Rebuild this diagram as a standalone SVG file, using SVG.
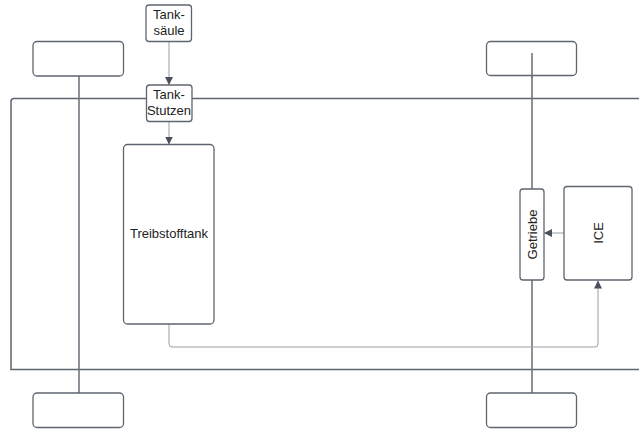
<svg xmlns="http://www.w3.org/2000/svg" width="639" height="429" viewBox="0 0 639 429">
  <style>
    .box { fill: #ffffff; stroke: #5f6570; stroke-width: 1.3; }
    .frame { fill: none; stroke: #5f6570; stroke-width: 1.5; }
    .axle { fill: none; stroke: #6f7580; stroke-width: 1.6; }
    .conn { fill: none; stroke: #9a9ea6; stroke-width: 1; }
    .lbl { font-family: "Liberation Sans", Arial, sans-serif; font-size: 13px; fill: #222222; text-anchor: middle; }
  </style>
  <defs>
    <marker id="arrow" viewBox="0 0 10 10" refX="10" refY="5" markerWidth="8" markerHeight="8" markerUnits="userSpaceOnUse" orient="auto">
      <path d="M0,0 L10,5 L0,10 Z" fill="#4a505c"/>
    </marker>
  </defs>

  <rect width="639" height="429" fill="#ffffff"/>

  <!-- vehicle body -->
  <g id="body">
    <path class="frame" d="M645,98.5 H14 Q11,98.5 11,101.5 V369.5 H645"/>
  </g>

  <!-- axles -->
  <g id="axles">
    <line class="axle" x1="79" y1="76" x2="79" y2="393"/>
    <line class="axle" x1="532" y1="53" x2="532" y2="393"/>
  </g>

  <!-- wheels -->
  <g id="wheel-front-left"><rect class="box" x="33" y="41.5" width="90.5" height="34.5" rx="4"/></g>
  <g id="wheel-front-right"><rect class="box" x="486.5" y="41.5" width="90" height="34" rx="4"/></g>
  <g id="wheel-rear-left"><rect class="box" x="33" y="393" width="90.5" height="34.5" rx="4"/></g>
  <g id="wheel-rear-right"><rect class="box" x="486.5" y="393" width="90" height="34.5" rx="4"/></g>
  <!-- front-right axle passes over its wheel -->
  <line class="axle" x1="532" y1="53" x2="532" y2="78"/>

  <!-- connectors -->
  <g id="connectors">
    <line class="conn" x1="169" y1="41.5" x2="169" y2="85" marker-end="url(#arrow)"/>
    <line class="conn" x1="169" y1="121.5" x2="169" y2="144.5" marker-end="url(#arrow)"/>
    <line class="conn" x1="564" y1="233" x2="544" y2="233" marker-end="url(#arrow)"/>
    <path class="conn" d="M169,324 V344 Q169,347 172,347 H595 Q598,347 598,344 V280.5" marker-end="url(#arrow)"/>
  </g>

  <g id="tanksaeule">
    <rect class="box" x="146" y="5" width="45.5" height="36.5" rx="3"/>
    <text class="lbl" x="169" y="19">Tank-</text>
    <text class="lbl" x="169" y="35">säule</text>
  </g>

  <g id="tankstutzen">
    <rect class="box" x="146.5" y="85" width="45.5" height="36.5" rx="3"/>
    <text class="lbl" x="169" y="99">Tank-</text>
    <text class="lbl" x="169" y="115">Stutzen</text>
  </g>

  <g id="treibstofftank">
    <rect class="box" x="123.5" y="144.5" width="90.5" height="179.5" rx="4"/>
    <text class="lbl" x="169" y="237.5">Treibstofftank</text>
  </g>

  <g id="getriebe">
    <rect class="box" x="520" y="189" width="24" height="91" rx="3"/>
    <text class="lbl" transform="translate(536.5,234.5) rotate(-90)">Getriebe</text>
  </g>

  <g id="ice">
    <rect class="box" x="564" y="186.5" width="68" height="93.5" rx="3"/>
    <text class="lbl" transform="translate(602.5,233) rotate(-90)">ICE</text>
  </g>
</svg>
